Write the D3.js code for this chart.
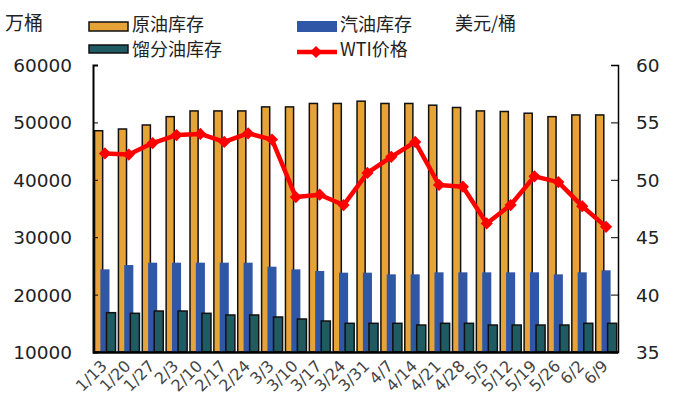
<!DOCTYPE html>
<html>
<head>
<meta charset="utf-8">
<script src="https://cdn.jsdelivr.net/npm/d3@7"></script>
<style>
  body { margin: 0; background: #fff; }
  svg text { font-family: "DejaVu Sans", sans-serif; }
  .cn { font-family: "Noto Sans CJK SC", sans-serif; }
</style>
</head>
<body>
<div id="chart"></div>
<script>
// Weekly US inventories vs WTI price

const dates = ["1/13","1/20","1/27","2/3","2/10","2/17","2/24","3/3","3/10","3/17","3/24",
               "3/31","4/7","4/14","4/21","4/28","5/5","5/12","5/19","5/26","6/2","6/9"];

// 原油库存 (万桶)
const crude = [48550,48850,49550,51000,52000,52000,52000,52700,52700,53300,53300,
               53700,53300,53300,53000,52600,52000,51900,51600,51000,51300,51300];
// 汽油库存 (万桶)
const gasoline = [24400,25150,25560,25560,25560,25560,25560,24860,24400,24110,23820,
                  23820,23530,23530,23880,23880,23880,23880,23880,23530,23880,24230];
// 馏分油库存 (万桶)
const distillate = [16850,16740,17140,17140,16740,16450,16450,16100,15750,15400,15000,
                    15000,15000,14700,15000,15000,14700,14700,14700,14700,15000,15000];
// WTI价格 (美元/桶)
const wti = [52.3,52.2,53.2,53.9,54.0,53.3,54.05,53.5,48.5,48.7,47.8,
             50.6,52.0,53.3,49.55,49.4,46.2,47.8,50.3,49.8,47.7,45.9];

const leftTicks = [10000,20000,30000,40000,50000,60000];
const rightTicks = [35,40,45,50,55,60];

const W = 673, H = 417;
const plot = { left: 93, right: 618, top: 65, bottom: 352 };

const svg = d3.select("#chart").append("svg")
    .attr("width", W)
    .attr("height", H);

const x = d3.scaleBand().domain(dates).range([plot.left, plot.right]).padding(0);
const yL = d3.scaleLinear().domain([10000, 60000]).range([plot.bottom, plot.top]);
const yR = d3.scaleLinear().domain([35, 60]).range([plot.bottom, plot.top]);
const bw = x.bandwidth();

const colors = { crude: "#E6A338", gas: "#3056A6", dist: "#1F5B63", wti: "#FF0000" };

// bars - overlapping like the original
const barSpecs = [
    { data: crude, off: 0.065, w: 0.34, fill: colors.crude, stroke: "#111" },
    { data: gasoline, off: 0.31, w: 0.38, fill: colors.gas, stroke: "none" },
    { data: distillate, off: 0.565, w: 0.38, fill: colors.dist, stroke: "#111" }
];

barSpecs.forEach(s => {
    svg.append("g").selectAll("rect")
        .data(s.data)
        .enter()
        .append("rect")
        .attr("x", (d, i) => x(dates[i]) + s.off * bw)
        .attr("y", d => yL(d))
        .attr("width", s.w * bw)
        .attr("height", d => yL(10000) - yL(d))
        .attr("fill", s.fill)
        .attr("stroke", s.stroke)
        .attr("stroke-width", 1.5);
});

// WTI line
const line = d3.line()
    .x((d, i) => x(dates[i]) + bw / 2)
    .y(d => yR(d));

svg.append("path")
    .datum(wti)
    .attr("d", line)
    .attr("fill", "none")
    .attr("stroke", colors.wti)
    .attr("stroke-width", 4.5)
    .attr("stroke-linejoin", "round");

const diamond = d3.symbol().type(d3.symbolSquare).size(75);
svg.append("g").selectAll("path")
    .data(wti)
    .enter()
    .append("path")
    .attr("d", diamond)
    .attr("transform", (d, i) => `translate(${x(dates[i]) + bw / 2},${yR(d)}) rotate(45)`)
    .attr("fill", colors.wti);

// axes
const leftAxis = svg.append("g")
    .attr("transform", `translate(${plot.left},0)`)
    .call(d3.axisRight(yL).tickValues(leftTicks).tickSize(5).tickFormat(""));
leftAxis.select(".domain").attr("stroke", "#000").attr("stroke-width", 2);

const rightAxis = svg.append("g")
    .attr("transform", `translate(${plot.right},0)`)
    .call(d3.axisLeft(yR).tickValues(rightTicks).tickSize(7).tickFormat(""));
rightAxis.select(".domain").attr("stroke", "#000").attr("stroke-width", 1.5);

svg.append("line")
    .attr("x1", plot.left).attr("x2", plot.right)
    .attr("y1", plot.bottom + 0.5).attr("y2", plot.bottom + 0.5)
    .attr("stroke", "#000").attr("stroke-width", 2.5);

// tick labels
svg.append("g").selectAll("text")
    .data(leftTicks)
    .enter()
    .append("text")
    .attr("x", 72)
    .attr("y", d => yL(d) + 7)
    .attr("text-anchor", "end")
    .attr("font-size", 18.5)
    .attr("fill", "#222")
    .text(d => d);

svg.append("g").selectAll("text")
    .data(rightTicks)
    .enter()
    .append("text")
    .attr("x", 636)
    .attr("y", d => yR(d) + 7)
    .attr("font-size", 18.5)
    .attr("fill", "#222")
    .text(d => d);

svg.append("g").selectAll("text")
    .data(dates)
    .enter()
    .append("text")
    .attr("transform", d => `translate(${x(d) + bw / 2 + 3},${plot.bottom + 15}) rotate(-45)`)
    .attr("text-anchor", "end")
    .attr("font-size", 16)
    .attr("fill", "#444")
    .text(d => d);

// axis titles
svg.append("text").attr("class", "cn")
    .attr("x", 5).attr("y", 30)
    .attr("font-size", 19).attr("fill", "#222")
    .text("万桶");

svg.append("text").attr("class", "cn")
    .attr("x", 455).attr("y", 30)
    .attr("font-size", 18).attr("fill", "#222")
    .text("美元/桶");

// legend
const legend = svg.append("g");

legend.append("rect").attr("x", 89).attr("y", 22).attr("width", 39).attr("height", 9)
    .attr("fill", colors.crude).attr("stroke", "#111").attr("stroke-width", 1.5);
legend.append("rect").attr("x", 89).attr("y", 45).attr("width", 39).attr("height", 8)
    .attr("fill", colors.dist).attr("stroke", "#111").attr("stroke-width", 1.5);
legend.append("rect").attr("x", 297).attr("y", 21).attr("width", 40).attr("height", 11)
    .attr("fill", colors.gas);
legend.append("line").attr("x1", 297).attr("x2", 337).attr("y1", 52).attr("y2", 52)
    .attr("stroke", colors.wti).attr("stroke-width", 4.5);
legend.append("path").attr("d", diamond)
    .attr("transform", "translate(316,52) rotate(45)")
    .attr("fill", colors.wti);

const legendText = [
    { t: "原油库存", x: 132, y: 31 },
    { t: "馏分油库存", x: 132, y: 56 },
    { t: "汽油库存", x: 340, y: 31 },
    { t: "WTI价格", x: 340, y: 56 }
];
legend.selectAll("text.lg")
    .data(legendText)
    .enter()
    .append("text")
    .attr("class", "cn")
    .attr("x", d => d.x)
    .attr("y", d => d.y)
    .attr("font-size", 18)
    .attr("fill", "#222")
    .text(d => d.t);
</script>
</body>
</html>
